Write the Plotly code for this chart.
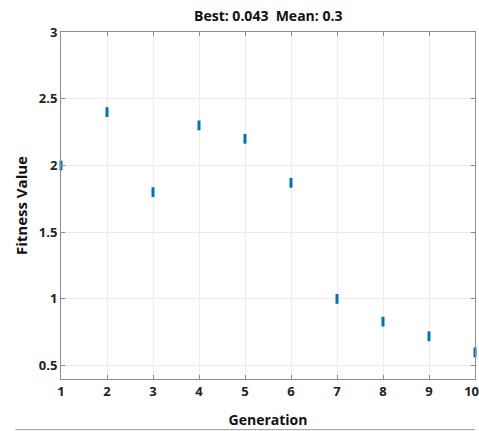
import plotly.graph_objects as go

generations = [1, 2, 3, 4, 5, 6, 7, 8, 9, 10]
fitness = [2.0, 2.4, 1.8, 2.3, 2.2, 1.87, 1.0, 0.83, 0.72, 0.6]
y_ticks = [0.5, 1, 1.5, 2, 2.5, 3]
y_tick_text = ["0.5", "1", "1.5", "2", "2.5", "3"]

FONT = "Liberation Sans Narrow, Open Sans, sans-serif"

fig = go.Figure()
fig.add_trace(go.Scatter(
    x=generations, y=fitness, mode="markers",
    marker=dict(symbol="line-ns", size=7, color="#0072BD",
                line=dict(width=3, color="#0072BD")),
    cliponaxis=False, showlegend=False,
))

axis_common = dict(
    showline=True, linecolor="#8c8c8c", linewidth=1, mirror="ticks",
    ticks="inside", ticklen=4, tickcolor="#8c8c8c",
    showgrid=True, gridcolor="#ececec", gridwidth=1, zeroline=False,
    tickfont=dict(family=FONT, size=13, color="#222222"),
    ticklabeloverflow="allow",
)

x_text = [f"<b>{g}</b>" for g in generations]
x_text[-1] = "<b>10</b>&nbsp;&nbsp;"

fig.update_layout(
    width=479, height=431,
    margin=dict(l=61, r=4, t=32, b=52, autoexpand=False),
    paper_bgcolor="white", plot_bgcolor="white",
    title=dict(text="<b>Best: 0.043  Mean: 0.3</b>", x=0.56, xanchor="center",
               y=0.962, yanchor="middle",
               font=dict(family=FONT, size=14, color="#111111")),
    xaxis=dict(range=[1, 10], tickvals=generations, ticktext=x_text,
               title=dict(text="<b>Generation</b>", standoff=16,
                          font=dict(family=FONT, size=14, color="#111111")),
               **axis_common),
    yaxis=dict(range=[0.4, 3], tickvals=y_ticks,
               ticktext=[f"<b>{t}</b>" for t in y_tick_text],
               title=dict(text="<b>Fitness Value</b>", standoff=7,
                          font=dict(family="Open Sans, sans-serif", size=15, color="#111111")),
               **axis_common),
)

fig.add_shape(type="line", xref="paper", yref="paper",
              x0=-0.11, x1=1.0, y0=-0.146, y1=-0.146,
              line=dict(color="#9a9a9a", width=1))

fig.write_html("out.html", config={"displayModeBar": False},
               post_script="document.body.style.margin='0';document.body.style.overflow='hidden';")
